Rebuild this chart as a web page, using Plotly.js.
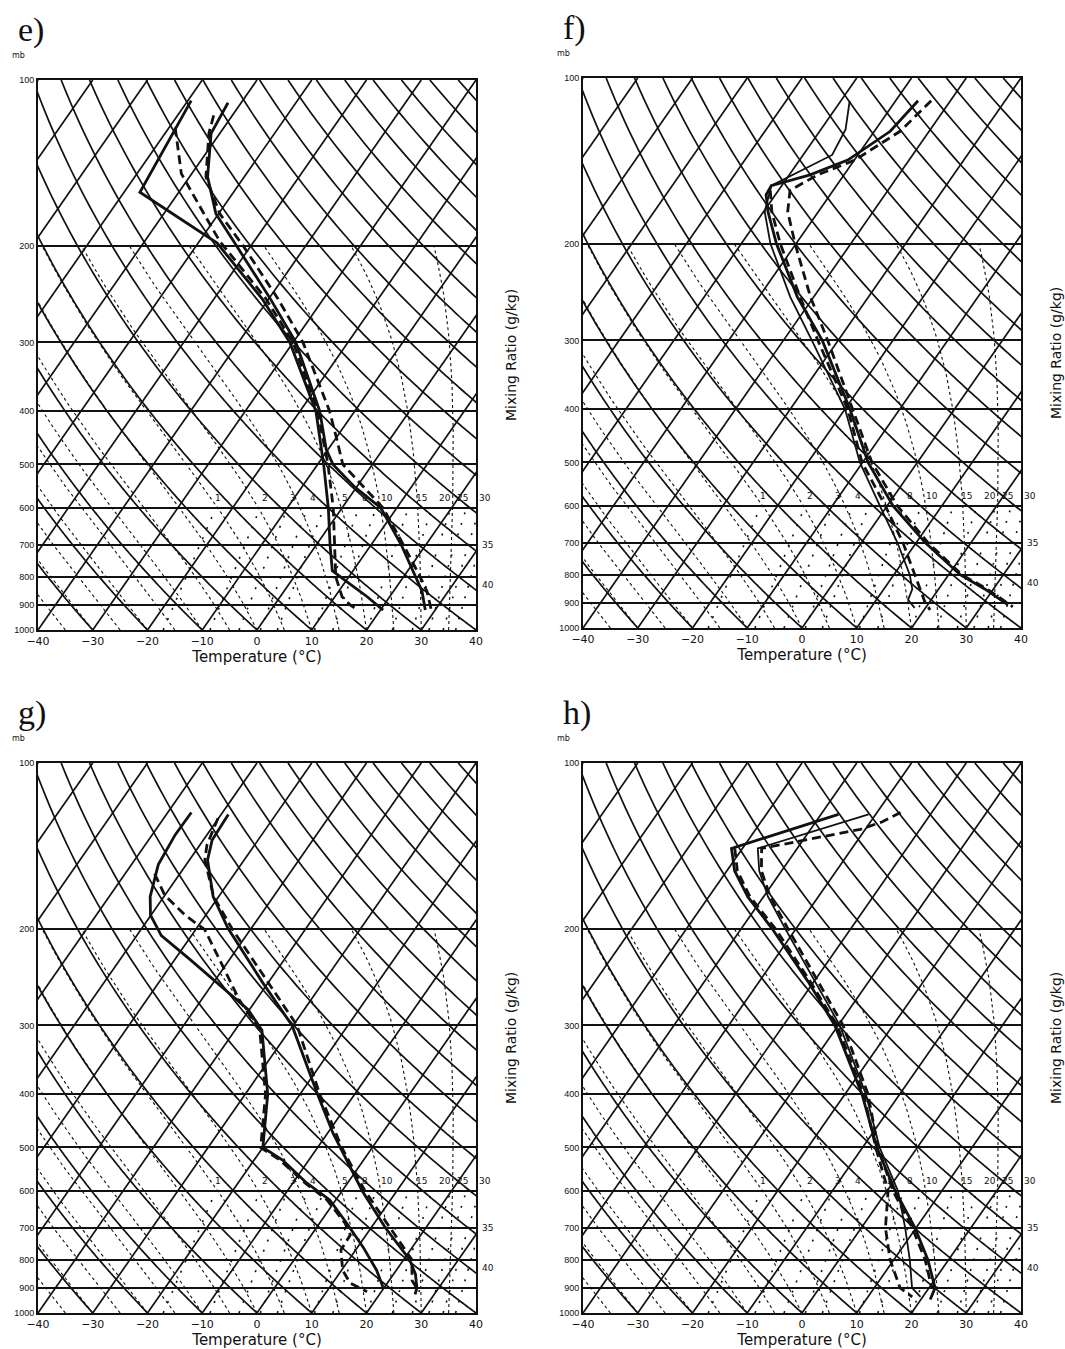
<!DOCTYPE html>
<html>
<head>
<meta charset="utf-8">
<script src="https://cdn.plot.ly/plotly-3.0.1.min.js"></script>
<style>
  html, body { margin: 0; padding: 0; background: #ffffff; }
  #chart { width: 1065px; height: 1349px; }
</style>
</head>
<body>
<div id="chart"></div>
<script>
// ---------------- Sounding profiles: pressure (mb) and temperature (°C) ----------------
// Panel e
const E_TEMP_SOLID_P = [110, 125, 150, 175, 200, 250, 300, 400, 470, 500, 550, 600, 700, 800, 850, 920];
const E_TEMP_SOLID_T = [-72.4, -71.6, -66.7, -60.5, -52.7, -39.7, -29.5, -16.4, -10.3, -7.2, -0.3, 7.1, 15.5, 22.2, 25.2, 28.2];
const E_TEMP_DASH_P = [116, 125, 150, 175, 200, 250, 300, 400, 450, 500, 600, 700, 800, 850, 920];
const E_TEMP_DASH_T = [-73.4, -72.0, -67.0, -59.8, -51.5, -38.3, -28.2, -14.6, -9.7, -5.4, 7.5, 15.9, 23.0, 26.1, 29.3];
const E_DEW_SOLID_P = [109, 160, 198, 250, 300, 400, 500, 600, 700, 780, 820, 870, 920];
const E_DEW_SOLID_T = [-79.4, -77.1, -56.5, -41.2, -30.6, -17.1, -8.9, -2.5, 2.5, 6.2, 10.6, 15.9, 20.5];
const E_DEW_DASH_P = [122, 148, 174, 196, 250, 300, 400, 500, 600, 700, 800, 870, 900, 920];
const E_DEW_DASH_T = [-78.9, -71.9, -63.0, -56.4, -40.5, -30.0, -16.8, -8.1, -1.6, 3.4, 7.6, 11.3, 13.8, 15.9];

// Panel f
const F_TEMP_SOLID_P = [110, 125, 141, 150, 157, 163, 175, 200, 250, 300, 400, 500, 600, 700, 800, 850, 908];
const F_TEMP_SOLID_T = [-45.9, -47.1, -51.2, -56.2, -61.9, -61.7, -59.2, -53.6, -43.0, -32.9, -19.1, -9.0, 1.1, 11.7, 22.1, 28.5, 34.7];
const F_TEMP_DASH_P = [110, 125, 141, 150, 160, 175, 200, 250, 300, 400, 500, 600, 700, 800, 850, 915];
const F_TEMP_DASH_T = [-43.5, -45.3, -49.9, -54.8, -57.9, -55.6, -50.2, -40.6, -31.9, -18.6, -8.3, 1.9, 12.2, 22.4, 28.9, 35.8];
const F_DEW_SOLID_P = [110, 124, 138, 157, 175, 200, 250, 300, 400, 500, 600, 700, 800, 850, 889, 919];
const F_DEW_SOLID_T = [-58.4, -55.5, -54.7, -61.9, -59.8, -54.7, -44.3, -34.8, -20.0, -10.5, -1.3, 6.6, 12.9, 15.2, 15.8, 18.0];
const F_DEW_DASH_P = [160, 175, 200, 250, 300, 400, 500, 600, 700, 800, 850, 900, 927];
const F_DEW_DASH_T = [-61.5, -58.5, -52.9, -42.5, -33.7, -19.5, -10.1, -0.3, 7.6, 13.8, 16.7, 19.3, 21.1];

// Panel g
const G_TEMP_SOLID_P = [124, 138, 150, 175, 200, 250, 300, 400, 471, 500, 600, 700, 800, 850, 900, 925];
const G_TEMP_SOLID_T = [-68.7, -68.4, -66.7, -61.0, -54.2, -41.2, -30.2, -16.8, -9.0, -5.9, 3.7, 12.6, 21.1, 24.0, 26.0, 26.5];
const G_TEMP_DASH_P = [126, 141, 150, 175, 200, 250, 300, 400, 500, 600, 700, 800, 873, 909];
const G_TEMP_DASH_T = [-70.1, -68.7, -67.2, -60.9, -53.5, -40.1, -29.3, -16.4, -5.6, 4.2, 13.5, 21.5, 24.2, 26.5];
const G_DEW_SOLID_P = [123, 135, 153, 175, 189, 206, 228, 253, 281, 306, 400, 500, 527, 580, 623, 686, 759, 836, 897];
const G_DEW_SOLID_T = [-75.7, -75.8, -75.1, -72.5, -70.1, -65.5, -57.1, -48.6, -40.2, -35.1, -25.9, -20.0, -14.8, -7.5, -1.1, 4.9, 11.0, 16.4, 19.7];
const G_DEW_DASH_P = [159, 174, 189, 201, 270, 306, 400, 500, 527, 580, 623, 686, 721, 768, 836, 882, 915];
const G_DEW_DASH_T = [-74.6, -70.0, -63.8, -58.3, -43.0, -35.5, -26.3, -20.4, -15.3, -7.8, -1.6, 4.6, 7.1, 7.3, 10.2, 13.2, 17.4];

// Panel h
const H_SOLID_THICK_P = [124, 143, 157, 175, 200, 250, 300, 400, 500, 600, 700, 800, 900, 945];
const H_SOLID_THICK_T = [-56.8, -72.0, -68.6, -62.9, -54.4, -41.0, -30.6, -16.9, -7.4, 1.5, 9.8, 16.2, 21.1, 21.7];
const H_SOLID_THIN_P = [124, 143, 157, 175, 200, 250, 300, 400, 500, 600, 700, 800, 900, 935];
const H_SOLID_THIN_T = [-51.3, -67.2, -64.1, -59.2, -52.0, -39.7, -29.7, -16.2, -6.9, 2.0, 8.0, 12.9, 16.9, 19.6];
const H_DASH_A_P = [123, 128, 132, 143, 157, 175, 200, 250, 300, 400, 500, 600, 700, 800, 900];
const H_DASH_A_T = [-45.7, -47.9, -50.9, -66.5, -63.7, -58.8, -51.5, -39.2, -29.1, -15.8, -7.2, 1.1, 9.3, 15.7, 20.5];
const H_DASH_B_P = [143, 157, 175, 200, 250, 300, 400, 500, 600, 700, 800, 900, 935];
const H_DASH_B_T = [-71.4, -68.1, -62.5, -53.8, -40.6, -30.2, -16.6, -7.6, 0.2, 4.4, 9.3, 14.7, 18.1];

// ---------------- Diagram background definitions ----------------
const PRESSURE_TICKS = [100, 200, 300, 400, 500, 600, 700, 800, 900, 1000];
const TEMP_TICKS = [-40, -30, -20, -10, 0, 10, 20, 30, 40];
const ISOTHERMS = [-120, -110, -100, -90, -80, -70, -60, -50, -40, -30, -20, -10, 0, 10, 20, 30, 40];
const DRY_ADIABATS = [-40, -30, -20, -10, 0, 10, 20, 30, 40, 50, 60, 70, 80, 90, 100, 110, 120, 130, 140, 150, 160, 170, 180, 190];
const MOIST_ADIABATS = [-35, -30, -25, -20, -15, -10, -5, 0, 5, 10, 15, 20, 25, 30, 35];
const MIXING_RATIOS = [1, 2, 3, 4, 5, 8, 10, 15, 20, 25, 30, 35, 40];
const MIXING_LABELS = ['1', '2', '3', '4', '5', '8', '10', '15', '20', '25'];
const MIXING_LABEL_X = [-7.1, 1.5, 6.6, 10.2, 16.1, 19.7, 23.7, 30.1, 34.3, 37.6];
// labels of the mixing-ratio lines that leave the diagram through its right edge
const EDGE_LABELS = ['30', '35', '40'];
const EDGE_LABEL_P = [575, 700, 829];

const SKEW = 70;          // isotherm shift (°C) per decade of pressure
const INK = '#111111';

function skewX(T, p) { return T + SKEW * Math.log10(1000 / p); }

function lapse(TK, p) {
  const Tc = TK - 273.15;
  const es = 6.112 * Math.exp(17.67 * Tc / (Tc + 243.5));
  const rs = 0.622 * es / (p - es);
  const Lv = 2.501e6, Rd = 287.04, cp = 1005.7;
  return (Rd * TK + Lv * rs) / (cp + Lv * Lv * rs * 0.622 / (Rd * TK * TK)) / p;
}

function isothermLines() {
  const x = [], y = [];
  ISOTHERMS.forEach(T => { x.push(skewX(T, 1000), skewX(T, 100), null); y.push(1000, 100, null); });
  return { x, y };
}
function dryAdiabatLines() {
  const x = [], y = [];
  DRY_ADIABATS.forEach(th => {
    const thK = th + 273.15;
    for (let p = 1000; p >= 100; p -= 5) {
      const T = thK * Math.pow(p / 1000, 0.2857) - 273.15;
      x.push(skewX(T, p)); y.push(p);
    }
    x.push(null); y.push(null);
  });
  return { x, y };
}
function moistAdiabatLines() {
  const x = [], y = [];
  MOIST_ADIABATS.forEach(tw => {
    let T = tw + 273.15;
    for (let p = 1000; p >= 200; p -= 2) {
      if (p % 10 === 0) { x.push(skewX(T - 273.15, p)); y.push(p); }
      const dp = -2;
      const k1 = lapse(T, p);
      const k2 = lapse(T + k1 * dp / 2, p + dp / 2);
      T += k2 * dp;
    }
    x.push(null); y.push(null);
  });
  return { x, y };
}
function mixingRatioLines() {
  const x = [], y = [];
  MIXING_RATIOS.forEach(w => {
    for (let p = 1000; p >= 600; p -= 20) {
      const e = w * p / (622 + w);
      const l = Math.log(e / 6.112);
      const Td = 243.5 * l / (17.67 - l);
      x.push(skewX(Td, p)); y.push(p);
    }
    x.push(null); y.push(null);
  });
  return { x, y };
}

const ISO = isothermLines();
const DRY = dryAdiabatLines();
const MOIST = moistAdiabatLines();
const MIX = mixingRatioLines();

// ---------------- Panel layout ----------------
const W = 1065, H = 1349;
const PANELS = [
  { letter: 'e)', box: [38, 476, 80, 630], curves: [
    [E_TEMP_SOLID_P, E_TEMP_SOLID_T, 'thick'], [E_TEMP_DASH_P, E_TEMP_DASH_T, 'dash'],
    [E_DEW_SOLID_P, E_DEW_SOLID_T, 'thick'], [E_DEW_DASH_P, E_DEW_DASH_T, 'dash']] },
  { letter: 'f)', box: [583, 1021, 78, 628], curves: [
    [F_TEMP_SOLID_P, F_TEMP_SOLID_T, 'thick'], [F_TEMP_DASH_P, F_TEMP_DASH_T, 'dash'],
    [F_DEW_SOLID_P, F_DEW_SOLID_T, 'thin'], [F_DEW_DASH_P, F_DEW_DASH_T, 'dash']] },
  { letter: 'g)', box: [38, 476, 763, 1313], curves: [
    [G_TEMP_SOLID_P, G_TEMP_SOLID_T, 'thick'], [G_TEMP_DASH_P, G_TEMP_DASH_T, 'dash'],
    [G_DEW_SOLID_P, G_DEW_SOLID_T, 'thick'], [G_DEW_DASH_P, G_DEW_DASH_T, 'dash']] },
  { letter: 'h)', box: [583, 1021, 763, 1313], curves: [
    [H_SOLID_THICK_P, H_SOLID_THICK_T, 'thick'], [H_SOLID_THIN_P, H_SOLID_THIN_T, 'thin'],
    [H_DASH_A_P, H_DASH_A_T, 'dash'], [H_DASH_B_P, H_DASH_B_T, 'dash']] }
];

const STYLES = {
  thick: { color: INK, width: 2.8 },
  thin: { color: INK, width: 1.8 },
  dash: { color: INK, width: 2.8, dash: '9px,5px' }
};

const traces = [];
const layout = {
  width: W, height: H,
  margin: { l: 0, r: 0, t: 0, b: 0 },
  paper_bgcolor: '#ffffff', plot_bgcolor: '#ffffff',
  showlegend: false,
  annotations: []
};

PANELS.forEach((pan, i) => {
  const n = i === 0 ? '' : String(i + 1);
  const xa = 'x' + n, ya = 'y' + n;
  const [x0, x1, y0, y1] = pan.box;
  const yOfP = p => y0 + (y1 - y0) * Math.log10(p / 100);   // pixel row of a pressure level

  layout['xaxis' + n] = {
    domain: [x0 / W, x1 / W], range: [-40, 40], anchor: ya,
    tickmode: 'array', tickvals: TEMP_TICKS,
    ticktext: TEMP_TICKS.map(v => v < 0 ? '\u2212' + Math.abs(v) : String(v)),
    ticks: '', showgrid: false, zeroline: false,
    showline: true, mirror: true, linecolor: INK, linewidth: 2,
    tickfont: { family: 'DejaVu Sans', size: 11, color: INK },
    title: { text: 'Temperature (\u00b0C)', font: { family: 'DejaVu Sans', size: 15, color: INK }, standoff: 0 }
  };
  layout['yaxis' + n] = {
    domain: [1 - y1 / H, 1 - y0 / H], type: 'log', range: [3, 2], anchor: xa,
    tickmode: 'array', tickvals: PRESSURE_TICKS, ticktext: PRESSURE_TICKS.map(String),
    ticks: '', showgrid: true, gridcolor: INK, gridwidth: 2, zeroline: false,
    showline: true, mirror: true, linecolor: INK, linewidth: 2,
    tickfont: { family: 'Liberation Sans', size: 9, color: INK }
  };

  const common = { xaxis: xa, yaxis: ya, mode: 'lines', hoverinfo: 'skip', showlegend: false };
  traces.push(Object.assign({ x: ISO.x, y: ISO.y, line: { color: INK, width: 1.7 } }, common));
  traces.push(Object.assign({ x: DRY.x, y: DRY.y, line: { color: INK, width: 1.7, shape: 'spline' } }, common));
  traces.push(Object.assign({ x: MOIST.x, y: MOIST.y, line: { color: INK, width: 1.1, dash: 'dot' } }, common));
  traces.push(Object.assign({ x: MIX.x, y: MIX.y, line: { color: INK, width: 1.6, dash: '2px,9px' } }, common));

  pan.curves.forEach(([P, T, style]) => {
    traces.push(Object.assign({ x: P.map((p, k) => skewX(T[k], p)), y: P, line: STYLES[style] }, common));
  });

  // mixing ratio labels along the 600 mb isobar
  MIXING_LABELS.forEach((txt, k) => {
    layout.annotations.push({ xref: xa, yref: ya, x: MIXING_LABEL_X[k], y: Math.log10(575),
      text: txt, showarrow: false, font: { family: 'DejaVu Sans', size: 9, color: INK } });
  });
  EDGE_LABELS.forEach((txt, k) => {
    layout.annotations.push({ xref: 'paper', yref: 'paper', x: (x1 + (k === 0 ? 1 : 4)) / W,
      y: 1 - yOfP(EDGE_LABEL_P[k]) / H, xanchor: 'left', yanchor: 'middle',
      text: txt, showarrow: false, font: { family: 'DejaVu Sans', size: 9, color: INK } });
  });

  // panel letter, pressure unit, right-hand axis caption
  layout.annotations.push({ xref: 'paper', yref: 'paper', x: (x0 - 22) / W, y: 1 - (y0 - 50) / H,
    text: pan.letter, showarrow: false, xanchor: 'left', yanchor: 'middle',
    font: { family: 'Liberation Serif', size: 34, color: INK } });
  layout.annotations.push({ xref: 'paper', yref: 'paper', x: (x0 - 28) / W, y: 1 - (y0 - 25) / H,
    text: 'mb', showarrow: false, xanchor: 'left', yanchor: 'middle',
    font: { family: 'DejaVu Sans', size: 8, color: INK } });
  layout.annotations.push({ xref: 'paper', yref: 'paper', x: (x1 + 35) / W, y: 1 - (y0 + 275) / H,
    text: 'Mixing Ratio (g/kg)', textangle: -90, showarrow: false, xanchor: 'center', yanchor: 'middle',
    font: { family: 'DejaVu Sans', size: 14, color: INK } });
});

Plotly.newPlot('chart', traces, layout, { staticPlot: true, displayModeBar: false });
</script>
</body>
</html>
